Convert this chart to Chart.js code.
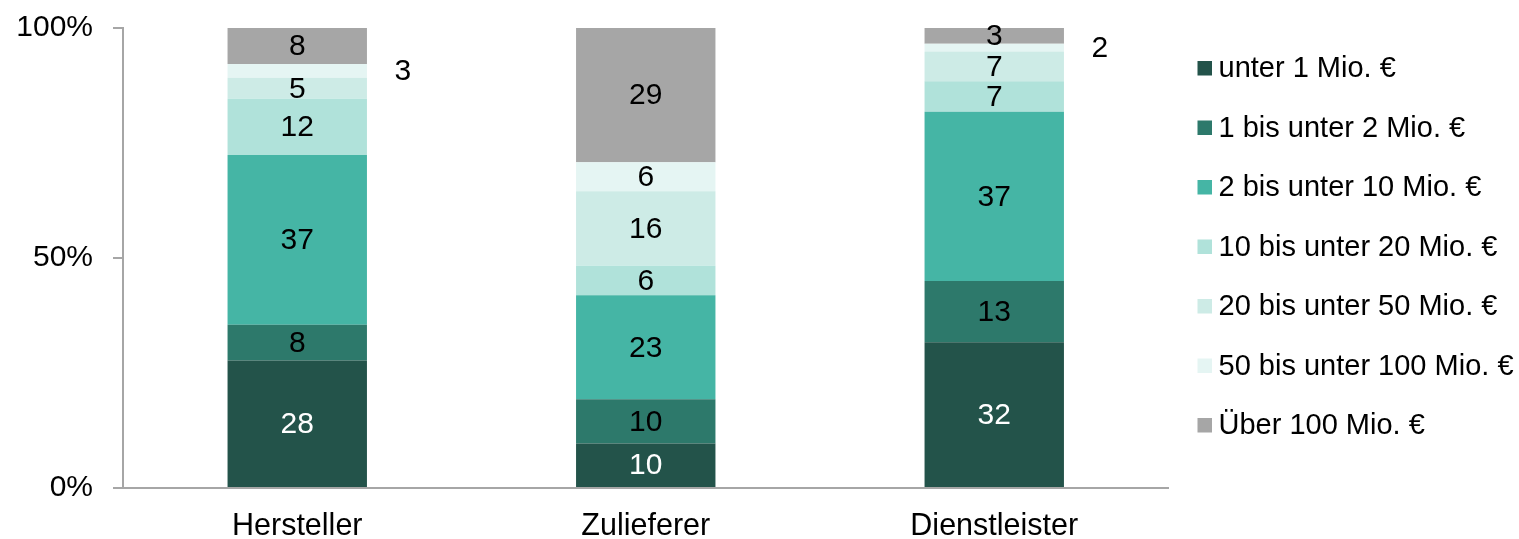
<!DOCTYPE html>
<html>
<head>
<meta charset="utf-8">
<script src="https://cdn.jsdelivr.net/npm/chart.js@4/dist/chart.umd.min.js"></script>
<style>
  html, body { margin: 0; padding: 0; background: #fff; }
  #wrap { width: 1519px; height: 539px; }
</style>
</head>
<body>
<div id="wrap"><canvas id="c" width="1519" height="539"></canvas></div>
<script>
const categories = ["Hersteller", "Zulieferer", "Dienstleister"];
const seriesNames = [
  "unter 1 Mio. €",
  "1 bis unter 2 Mio. €",
  "2 bis unter 10 Mio. €",
  "10 bis unter 20 Mio. €",
  "20 bis unter 50 Mio. €",
  "50 bis unter 100 Mio. €",
  "Über 100 Mio. €"
];
const unter1 = [27.7, 9.7, 31.7];
const bis2 = [7.8, 9.6, 13.3];
const bis10 = [36.9, 22.6, 36.8];
const bis20 = [12.2, 6.4, 6.6];
const bis50 = [4.6, 16.2, 6.5];
const bis100 = [3.0, 6.3, 1.7];
const ueber100 = [7.8, 29.2, 3.4];
const yTicks = [0, 50, 100];

const seriesValues = [unter1, bis2, bis10, bis20, bis50, bis100, ueber100];
const colors = ["#23534a", "#2d796b", "#45b5a5", "#b0e2da", "#cdebe6", "#e5f5f3", "#a6a6a6"];
const FONT = '"Liberation Sans", Arial, sans-serif';

const labelPlugin = {
  id: 'segLabels',
  afterDatasetsDraw(chart) {
    const ctx = chart.ctx;
    ctx.save();
    ctx.font = '30px ' + FONT;
    ctx.textBaseline = 'middle';
    ctx.textAlign = 'center';
    chart.data.datasets.forEach((ds, di) => {
      const meta = chart.getDatasetMeta(di);
      meta.data.forEach((el, i) => {
        const v = ds.data[i];
        const txt = String(Math.round(v));
        const top = Math.min(el.y, el.base), bot = Math.max(el.y, el.base);
        const h = bot - top;
        const cy = (top + bot) / 2;
        if (h < 15) {
          ctx.fillStyle = '#000';
          ctx.fillText(txt, el.x + el.width / 2 + 36, cy + 1);
        } else {
          ctx.fillStyle = di === 0 ? '#ffffff' : '#000000';
          ctx.fillText(txt, el.x, cy + 1);
        }
      });
    });
    ctx.restore();
  }
};

const legendPlugin = {
  id: 'sideLegend',
  afterDraw(chart) {
    const ctx = chart.ctx;
    ctx.save();
    ctx.font = '29px ' + FONT;
    ctx.textBaseline = 'middle';
    ctx.textAlign = 'left';
    const x0 = chart.chartArea.right + 29;
    const y0 = 68, step = 59.5;
    seriesNames.forEach((name, i) => {
      const y = y0 + i * step;
      ctx.fillStyle = colors[i];
      ctx.fillRect(x0, y - 7, 14.5, 14.5);
      ctx.fillStyle = '#000';
      ctx.fillText(name, x0 + 21, y + 1);
    });
    ctx.restore();
  }
};

new Chart(document.getElementById('c'), {
  type: 'bar',
  data: {
    labels: categories,
    datasets: seriesValues.map((vals, i) => ({
      label: seriesNames[i],
      data: vals,
      backgroundColor: colors[i],
      borderWidth: 0,
      barPercentage: 0.4,
      categoryPercentage: 1
    }))
  },
  options: {
    responsive: false,
    animation: false,
    devicePixelRatio: 1,
    layout: { padding: { top: 28, right: 350.5, left: 0, bottom: 0 } },
    plugins: { legend: { display: false }, tooltip: { enabled: false } },
    scales: {
      x: {
        stacked: true,
        grid: { display: false, drawTicks: false },
        border: { display: true, color: '#a6a6a6', width: 2 },
        ticks: { color: '#000', font: { family: FONT, size: 30.5 }, padding: 20 },
        afterFit(scale) { scale.height = 51; scale.paddingLeft = 0; scale.paddingRight = 0; }
      },
      y: {
        stacked: true,
        min: 0, max: 100,
        afterBuildTicks(scale) { scale.ticks = yTicks.map(v => ({ value: v })); },
        ticks: { color: '#000', font: { family: FONT, size: 30 }, padding: 20,
                 callback: v => v + '%' },
        grid: { drawOnChartArea: false, drawTicks: true, tickLength: 10, color: '#a6a6a6', lineWidth: 2 },
        border: { display: true, color: '#a6a6a6', width: 2 },
        afterFit(scale) { scale.width = 123; scale.paddingTop = 0; scale.paddingBottom = 0; }
      }
    }
  },
  plugins: [labelPlugin, legendPlugin]
});
</script>
</body>
</html>
